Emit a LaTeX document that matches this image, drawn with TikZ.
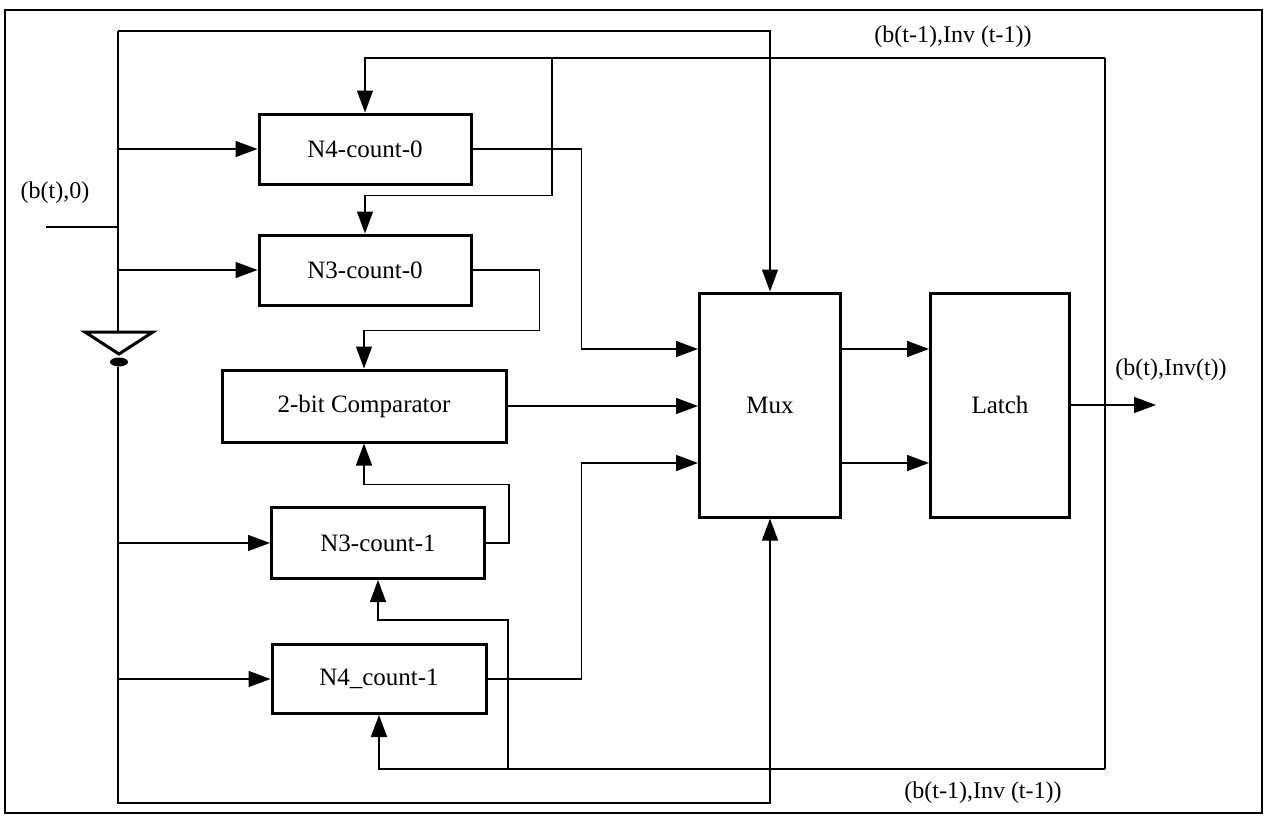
\documentclass[tikz,border=0pt]{standalone}
\usepackage{fontspec}
\setmainfont{Liberation Serif}
\usetikzlibrary{arrows.meta}

\def\buffer{(85,332) -- (153,332) -- (119,354) -- cycle}
\def\bubble{(119,362) ellipse (9 and 4.5)}

\begin{document}
\begin{tikzpicture}[x=1pt,y=-1pt,
    block/.style={draw,line width=3pt,minimum width=212pt,minimum height=70pt,
      inner sep=0pt,font=\fontsize{25}{28}\selectfont},
    wire/.style={line width=1.4pt},
    arr/.style={wire,-{Triangle[length=22pt,width=16pt]}},
    lbl/.style={font=\fontsize{24}{27}\selectfont}]
    \useasboundingbox (0,0) rectangle (1267,815);
    \draw[line width=1.8pt] (5,10) rectangle (1262,813);

    \node[block] (n4c0) at (365,149) {N4-count-0};
    \node[block] (n3c0) at (365,270) {N3-count-0};
    \node[block,minimum width=284pt,minimum height=72pt] (cmp) at (364,406) {2-bit Comparator};
    \node[block,minimum width=213pt,minimum height=71pt] (n3c1) at (378,543) {N3-count-1};
    \node[block,minimum width=214pt,minimum height=69pt] (n4c1) at (379,679) {N4\_count-1};
    \node[block,minimum width=141pt,minimum height=224pt] (mux) at (770,405) {Mux};
    \node[block,minimum width=139pt,minimum height=224pt] (latch) at (1000,405) {Latch};

    \coordinate (bus) at (118,31);
    \coordinate (bufin) at (118,332);
    \coordinate (bufout) at (118,367);
    \coordinate (low) at (118,803);
    \coordinate (bt) at (46,227);
    \coordinate (fbtop) at (1105,58);
    \coordinate (fbbot) at (1105,769);
    \coordinate (tap1) at (552,58);
    \coordinate (tap2) at (508,769);

    % input bus and buffer
    \draw[wire] (bt) -- (bt -| bus);
    \draw[wire] (bufin) -- (bus);
    \draw[line width=3pt,line join=miter] \buffer;
    \fill \bubble;
    \draw[arr] (bus) -| (mux.north);
    \draw[arr] (bufout) -- (low) -| (mux.south);

    \draw[arr] (bus |- n4c0) -- (n4c0.west);
    \draw[arr] (bus |- n3c0) -- (n3c0.west);
    \draw[arr] (bus |- n3c1) -- (n3c1.west);
    \draw[arr] (bus |- n4c1) -- (n4c1.west);

    % counters into the comparator
    \draw[arr] (n3c0.east) -- ++(67,0) |- ([yshift=38pt]cmp.north) -- (cmp.north);
    \draw[arr] (n3c1.east) -- ++(23,0) |- ([yshift=-41pt]cmp.south) -- (cmp.south);

    % mux and latch
    \draw[arr] (n4c0.east) -- ++(109,0) |- ([yshift=56pt]mux.west);
    \draw[arr] (cmp.east) -- (cmp.east -| mux.west);
    \draw[arr] (n4c1.east) -- ++(94,0) |- ([yshift=-58pt]mux.west);
    \draw[arr] ([yshift=56pt]mux.east) -- ([yshift=56pt]latch.west);
    \draw[arr] ([yshift=-58pt]mux.east) -- ([yshift=-58pt]latch.west);
    \draw[arr] (latch.east) -- ++(85,0);

    % feedback of the latched output
    \draw[wire] (fbtop) -- (fbbot);
    \draw[arr] (fbtop) -| (n4c0.north);
    \draw[arr] (tap1) |- ([yshift=38pt]n3c0.north) -- (n3c0.north);
    \draw[arr] (fbbot) -| (n4c1.south);
    \draw[arr] (tap2) |- ([yshift=-40pt]n3c1.south) -- (n3c1.south);

    \node[lbl] (lin) at (55,193) {(b(t),0)};
    \node[lbl] (lout) at (1171,370) {(b(t),Inv(t))};
    \node[lbl] (lfbt) at (953,37) {(b(t-1),Inv (t-1))};
    \node[lbl] (lfbb) at (983,793) {(b(t-1),Inv (t-1))};
\end{tikzpicture}
\end{document}
